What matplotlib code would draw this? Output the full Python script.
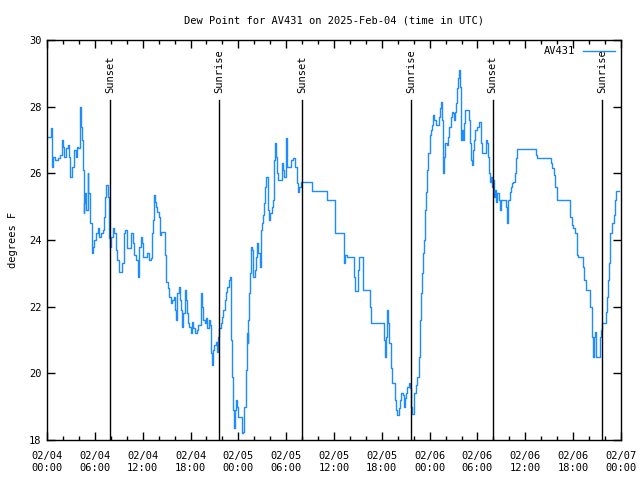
import matplotlib
matplotlib.use("Agg")
import matplotlib.pyplot as plt
import numpy as np

# hours since 2025-02-04 00:00 UTC, dew point in F
hours = [
    0.0, 0.17, 0.46, 0.54, 0.67, 0.79, 1.0, 1.34, 1.63, 1.84, 2.0, 2.17, 2.38, 2.59,
    2.76, 2.93, 3.18, 3.39, 3.6, 3.76, 3.93, 4.1, 4.26, 4.39, 4.48, 4.6, 4.68, 4.81,
    4.89, 5.1, 5.18, 5.39, 5.6, 5.77, 5.93, 6.15, 6.36, 6.56, 6.77, 6.99, 7.19, 7.31,
    7.44, 7.61, 7.74, 7.86, 8.03, 8.28, 8.44, 8.66, 8.82, 9.07, 9.45, 9.62, 9.82, 10.0,
    10.29, 10.54, 10.75, 10.95, 11.16, 11.38, 11.58, 11.75, 11.92, 12.04,
    12.38, 12.59, 12.79, 13.05, 13.17, 13.26, 13.38, 13.51, 13.64, 13.84, 14.01, 14.14,
    14.26, 14.51, 14.8, 14.93, 15.14, 15.34, 15.55, 15.72, 15.93, 16.06, 16.18, 16.35,
    16.6, 16.72, 16.85, 16.97, 17.1, 17.27, 17.44, 17.56, 17.69, 17.85, 18.03, 18.19,
    18.35, 18.53, 18.78, 18.98, 19.19, 19.32, 19.48, 19.61, 19.78, 19.95, 20.11, 20.28,
    20.45, 20.57, 20.7, 20.82, 20.99, 21.16, 21.28, 21.41, 21.58, 21.79, 21.95, 22.12,
    22.29, 22.45, 22.62, 22.79, 22.92, 23.04, 23.12, 23.21, 23.33, 23.46, 23.58, 23.71,
    23.87, 24.0, 24.21, 24.42, 24.62, 24.71, 24.93, 25.05, 25.18, 25.25, 25.38, 25.46,
    25.55, 25.75, 25.88, 26.09, 26.22, 26.38, 26.51, 26.72, 26.84, 27.01, 27.13, 27.26,
    27.38, 27.51, 27.68, 27.85, 28.01, 28.18, 28.35, 28.43, 28.56, 28.68, 28.81, 28.98,
    29.23, 29.44, 29.64, 29.77, 29.94, 30.07, 30.14, 30.36, 30.61, 30.86, 31.07, 31.32,
    31.45, 31.61, 31.86, 33.08, 33.2, 35.16, 36.13, 37.29, 37.42, 37.59, 38.55, 38.67,
    39.05, 39.18, 39.6, 39.68, 40.56, 40.68, 42.31, 42.44, 42.52, 42.65, 42.81, 42.94,
    43.11, 43.28, 43.65, 43.82, 43.94, 44.12, 44.28, 44.45, 44.62, 44.74, 44.91, 45.03,
    45.2, 45.41, 45.54, 45.62, 45.79, 46.08, 46.25, 46.45, 46.66, 46.79, 46.92, 47.0,
    47.13, 47.29, 47.38, 47.5, 47.67, 47.83, 48.0, 48.17, 48.29, 48.42, 48.55, 48.76,
    49.21, 49.34, 49.46, 49.55, 49.63, 49.76, 49.92, 50.13, 50.34, 50.46, 50.64, 50.8,
    50.97, 51.09, 51.22, 51.34, 51.47, 51.6, 51.72, 51.81, 51.89, 52.02, 52.14, 52.27,
    52.47, 52.89, 53.02, 53.14, 53.27, 53.39, 53.52, 53.69, 53.9, 54.23, 54.4, 54.52,
    55.11, 55.23, 55.36, 55.49, 55.61, 55.74, 55.87, 55.99, 56.12, 56.24, 56.37, 56.5,
    56.67, 56.79, 56.95, 57.58, 57.71, 57.87, 58.04, 58.2, 58.37, 58.49, 58.67, 58.83,
    58.96, 61.38, 61.51, 63.18, 63.38, 63.6, 63.76, 63.94, 65.64, 65.82, 66.02, 66.23,
    66.45, 66.65, 67.24, 67.4, 67.58, 68.11, 68.32, 68.45, 68.62, 68.74, 68.87, 69.41,
    69.54, 69.66, 70.12, 70.24, 70.37, 70.53, 70.66, 70.82, 71.07, 71.2, 71.32, 71.77,
]
dewpoint = [
    27.1, 27.1, 27.2, 27.35, 26.2, 26.5, 26.4, 26.45, 26.55, 27.0, 26.8, 26.5, 26.75, 26.85,
    26.5, 25.9, 26.2, 26.7, 26.5, 26.8, 26.75, 28.0, 27.4, 27.0, 26.1, 24.8, 25.1, 25.4,
    24.9, 26.0, 25.4, 24.5, 23.6, 23.8, 24.0, 24.2, 24.35, 24.1, 24.2, 24.3, 24.7, 25.3,
    25.65, 25.3, 24.05, 23.8, 24.1, 24.35, 24.2, 23.7, 23.4, 23.05, 23.3, 24.2, 24.3, 23.75,
    23.75, 24.2, 23.9, 23.55, 23.4, 22.9, 23.8, 24.1, 23.9, 23.5,
    23.5, 23.6, 23.4, 23.45, 24.2, 24.6, 25.35, 25.15, 25.0, 24.85, 24.7, 24.15,
    24.25, 24.25, 23.55, 22.75, 22.55, 22.3, 22.1, 22.2, 22.3, 21.9, 21.6, 22.4,
    22.6, 22.2, 21.9, 21.4, 21.8, 22.5, 22.2, 21.8, 21.5, 21.4, 21.2, 21.55,
    21.35, 21.2, 21.3, 21.45, 21.45, 22.4, 22.0, 21.6, 21.5, 21.65, 21.35, 21.6,
    21.45, 20.6, 20.25, 20.7, 20.85, 20.95, 20.65, 21.1, 21.35, 21.5, 21.7, 21.9,
    22.2, 22.45, 22.6, 22.8, 22.9, 22.35, 21.0, 19.9, 18.9, 18.35, 18.9, 19.2,
    19.0, 18.7, 18.7, 18.2, 18.25, 19.0, 20.1, 21.2, 20.9, 21.6, 22.4, 23.0,
    23.8, 23.7, 22.9, 23.1, 23.5, 23.9, 23.6, 23.2, 24.3, 24.5, 24.75, 25.1,
    25.6, 25.9, 24.9, 24.6, 24.8, 25.0, 25.2, 26.4, 26.9, 26.5, 26.0, 25.8,
    25.8, 26.3, 26.1, 25.9, 27.05, 26.6, 26.2, 26.2, 26.4, 26.45, 26.2, 25.7,
    25.45, 25.6, 25.75, 25.75, 25.47, 25.2, 24.22, 23.3, 23.55, 23.48, 22.9, 22.48,
    23.1, 23.48, 22.9, 22.5, 22.0, 21.5, 21.0, 20.5, 21.1, 21.9, 21.5, 20.9,
    20.15, 19.7, 19.2, 18.9, 18.75, 18.95, 19.2, 19.4, 19.35, 19.0, 19.25, 19.4,
    19.6, 19.7, 19.55, 19.0, 18.78, 19.4, 19.65, 19.9, 20.5, 21.6, 22.4, 23.0,
    23.6, 24.0, 24.9, 25.45, 26.1, 26.6, 27.15, 27.3, 27.45, 27.75, 27.6, 27.45,
    27.7, 27.95, 28.15, 27.6, 26.0, 26.5, 26.9, 26.85, 27.1, 27.4, 27.7, 27.85,
    27.8, 27.6, 27.85, 28.1, 28.55, 28.85, 29.1, 28.6, 27.0, 27.3, 27.0, 27.5,
    27.9, 27.6, 26.9, 26.4, 26.25, 26.7, 27.0, 27.3, 27.4, 27.55, 26.9, 26.6,
    27.0, 26.9, 26.5, 26.0, 25.75, 25.9, 25.6, 25.8, 25.3, 25.5, 25.15, 25.4,
    25.2, 24.9, 25.2, 25.0, 24.5, 25.2, 25.45, 25.6, 25.7, 25.75, 26.0, 26.45,
    26.72, 26.55, 26.45, 26.3, 26.15, 25.95, 25.6, 25.2, 24.7, 24.45, 24.35, 24.2,
    23.55, 23.49, 23.2, 22.8, 22.5, 22.0, 21.1, 20.5, 21.1, 21.25, 20.5, 21.1,
    21.3, 21.5, 21.85, 22.3, 22.8, 23.3, 24.2, 24.5, 24.75, 25.2, 25.47, 25.47,
]

sun_events = ["Sunset", "Sunrise", "Sunset", "Sunrise", "Sunset", "Sunrise"]
sun_hours = [7.9, 21.6, 32.0, 45.7, 55.9, 69.6]

xtick_hours = list(range(0, 73, 6))
xtick_labels = ["02/04\n00:00", "02/04\n06:00", "02/04\n12:00", "02/04\n18:00",
                "02/05\n00:00", "02/05\n06:00", "02/05\n12:00", "02/05\n18:00",
                "02/06\n00:00", "02/06\n06:00", "02/06\n12:00", "02/06\n18:00",
                "02/07\n00:00"]

plt.rcParams['font.family'] = ['DejaVu Sans Mono']
plt.rcParams['font.size'] = 7.5

fig = plt.figure(figsize=(6.4, 4.8), dpi=100)
ax = fig.add_axes([47 / 640, 40 / 480, 574 / 640, 400 / 480])

ax.plot(hours, dewpoint, color="#1e8cff", lw=1.0, drawstyle="steps-post", label="AV431")

for name, h in zip(sun_events, sun_hours):
    ax.axvline(h, ymin=0, ymax=0.85, color="black", lw=1.0)
    ax.text(h, 28.4, name, rotation=90, ha="center", va="bottom", fontsize=7.5)

ax.set_xlim(0, 72)
ax.set_ylim(18, 30)
ax.set_xticks(xtick_hours)
ax.set_xticklabels(xtick_labels)
ax.set_xticks(np.arange(0, 73, 2), minor=True)
ax.set_yticks(range(18, 31, 2))
ax.tick_params(which="both", direction="in", top=True, right=True, width=1)
ax.tick_params(which="major", length=6, pad=4)
ax.tick_params(axis="x", which="major", pad=8)
ax.tick_params(which="minor", length=3)
for s in ax.spines.values():
    s.set_linewidth(1)

ax.set_ylabel("degrees F", labelpad=8)
ax.set_title("Dew Point for AV431 on 2025-Feb-04 (time in UTC)", pad=12, fontsize=7.5)
ax.legend(loc="upper right", frameon=False, markerfirst=False, handlelength=3,
          handletextpad=0.8, borderaxespad=0.2, fontsize=7.5)

fig.savefig("out.png", dpi=100)
